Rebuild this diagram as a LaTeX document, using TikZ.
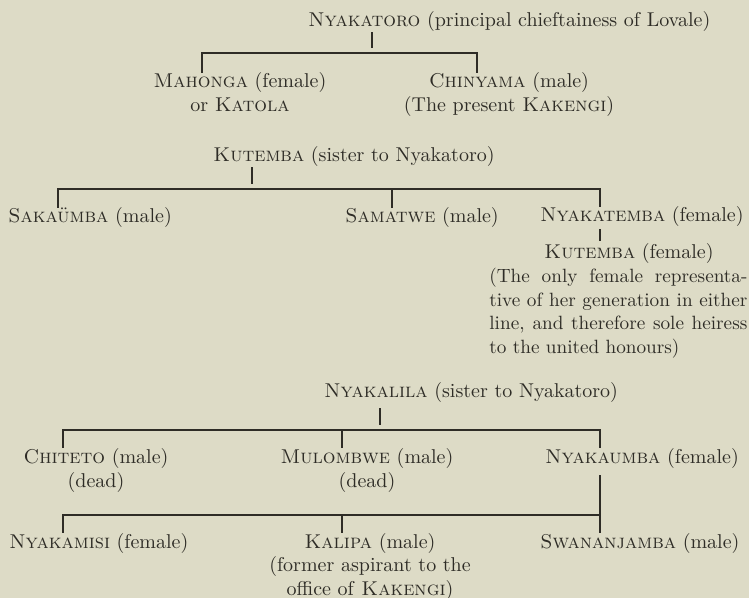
\documentclass[tikz,border=0pt]{standalone}
\usepackage{fontspec}
\usetikzlibrary{calc}
\definecolor{paper}{RGB}{221,219,198}
\definecolor{ink}{RGB}{46,44,38}

\begin{document}
\begin{tikzpicture}[x=0.5pt,y=-0.5pt]
    \tikzset{
        person/.style={inner sep=0pt, text=ink, font=\fontsize{10}{12}\selectfont},
        named/.style={person, anchor=base west},
        family/.style={person, anchor=base, align=center},
        line/.style={draw=ink, line width=0.6pt},
        stem/.style={line, shorten >=2.5pt},
    };
    \fill [paper] (0,0) rectangle (749,598);
    \useasboundingbox (0,0) rectangle (749,598);

    \node [named] (nyakatoro) at (308,27) {\textsc{Nyakatoro} (principal chieftainess of Lovale)};
    \node [family] (mahonga) at (240,112) {\textsc{Mahonga} (female)\\or \textsc{Katola}};
    \node [family] (chinyama) at (509,112) {\textsc{Chinyama} (male)\\(The present \textsc{Kakengi})};

    \node [named] (kutemba) at (213,162) {\textsc{Kutemba} (sister to Nyakatoro)};
    \node [named] (sakaumba) at (8,223) {\textsc{Sakaümba} (male)};
    \node [named] (samatwe) at (345,223) {\textsc{Samatwe} (male)};
    \node [named] (nyakatemba) at (540,222) {\textsc{Nyakatemba} (female)};
    \node [named] (kutembaf) at (544,259) {\textsc{Kutemba} (female)};
    \node [named, text width=129pt, align=justify, font=\fontsize{9.6}{11.67}\selectfont] (note) at (489,283)
        {(The only female representa-\linebreak tive of her generation in either\linebreak line, and therefore sole heiress\linebreak to the united honours)};

    \node [named] (nyakalila) at (324,398) {\textsc{Nyakalila} (sister to Nyakatoro)};
    \node [family] (chiteto) at (96,487) {\textsc{Chiteto} (male)\\(dead)};
    \node [family] (mulombwe) at (367,487) {\textsc{Mulombwe} (male)\\(dead)};
    \node [named] (nyakaumba) at (545,463) {\textsc{Nyakaumba} (female)};
    \node [named] (nyakamisi) at (9,548) {\textsc{Nyakamisi} (female)};
    \node [family, font=\fontsize{10}{11.75}\selectfont] (kalipa) at (370,595) {\textsc{Kalipa} (male)\\(former aspirant to the\\office of \textsc{Kakengi})};
    \node [named] (swananjamba) at (540,548) {\textsc{Swananjamba} (male)};

    \coordinate (j1) at (372,53);
    \coordinate (ma) at (202,53);
    \coordinate (ch) at (477,53);
    \coordinate (j2) at (252,189);
    \coordinate (sa) at (58,189);
    \coordinate (sm) at (392,189);
    \coordinate (nt) at (600,189);
    \coordinate (j3) at (380,430);
    \coordinate (ct) at (63,430);
    \coordinate (mu) at (342,430);
    \coordinate (nu) at (600,430);
    \coordinate (j4) at (600,515);
    \coordinate (nm) at (63,515);
    \coordinate (ka) at (342,515);

    \path [stem] (nyakatoro.south -| j1) -- (j1);
    \path [line] (mahonga.north -| ma) -- (ma) -- (ch) -- (chinyama.north -| ch);

    \path [stem] (kutemba.south -| j2) -- (j2);
    \path [line] (sakaumba.north -| sa) -- (sa) -- (nt) -- (nyakatemba.north -| nt);
    \path [line] (sm) -- (samatwe.north -| sm);
    \path [line, shorten <=1pt, shorten >=1.5pt] (nyakatemba.south -| nt) -- (kutembaf.north -| nt);

    \path [stem, shorten <=2.5pt] (nyakalila.south -| j3) -- (j3);
    \path [line] (chiteto.north -| ct) -- (ct) -- (nu) -- (nyakaumba.north -| nu);
    \path [line] (mu) -- (mulombwe.north -| mu);
    \path [line, shorten <=3.5pt] (nyakaumba.south -| j4) -- (swananjamba.north -| j4);
    \path [line] (nyakamisi.north -| nm) -- (nm) -- (j4);
    \path [line] (ka) -- (kalipa.north -| ka);
\end{tikzpicture}
\end{document}
